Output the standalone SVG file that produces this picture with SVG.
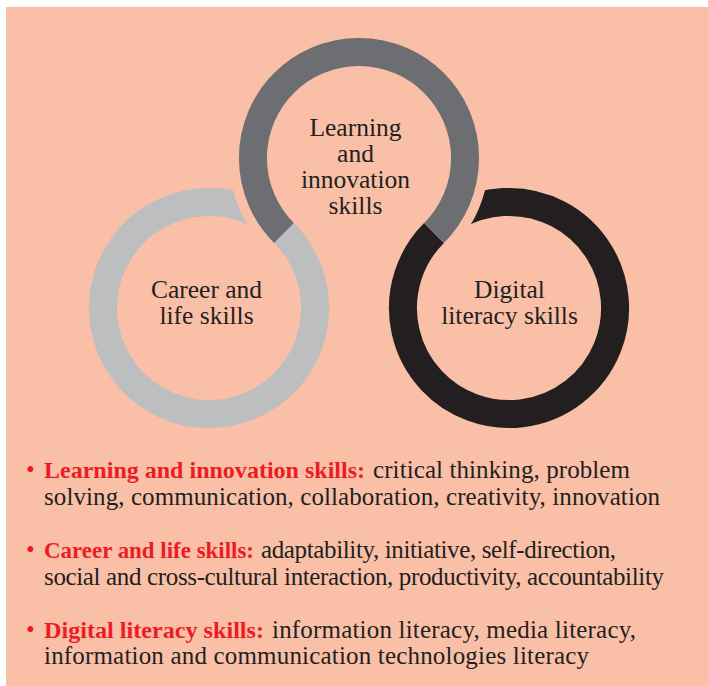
<svg xmlns="http://www.w3.org/2000/svg" width="708" height="686" viewBox="0 0 708 686">
<style>
.ring{fill:none;stroke-width:28;stroke-linecap:butt}
.cover{fill:none;stroke:#f9bfa7;stroke-width:38;stroke-linecap:butt}
.lbl{font-family:"Liberation Serif","Times New Roman",serif;font-size:25.5px;fill:#231f20;text-anchor:middle}
.body{font-family:"Liberation Serif","Times New Roman",serif;font-size:25px;fill:#231f20}
.head{font-family:"Liberation Serif","Times New Roman",serif;font-size:24px;font-weight:bold;fill:#ed1c24}
.dot{font-family:"Liberation Serif","Times New Roman",serif;font-size:25px;fill:#ed1c24}
</style>
<rect x="0" y="0" width="708" height="686" fill="#ffffff"/>
<rect x="6" y="7" width="702" height="679" fill="#f9bfa7"/>
<g id="career-ring">
<path class="ring" stroke="#bcbec0" d="M284,233 A106.07,106.07 0 1 1 262.03,216.14"/>
</g>
<g id="digital-ring">
<path class="ring" stroke="#231f20" d="M434,233 A106.07,106.07 0 1 0 455.97,216.14"/>
</g>
<g id="learning-ring">
<path class="cover" d="M273.97,229.35 A111,111 0 0 1 251.78,129.27"/>
<path class="cover" d="M444.03,229.35 A111,111 0 0 0 466.22,129.27"/>
<path class="ring" stroke="#6d6e71" d="M284,233 A106.07,106.07 0 1 1 434,233"/>
</g>
<g id="learning-label">
<text class="lbl"><tspan x="355.5" y="135.5">Learning</tspan><tspan x="355.5" y="161.5">and</tspan><tspan x="355.5" y="187.5">innovation</tspan><tspan x="355.5" y="213.5">skills</tspan></text>
</g>
<g id="career-label">
<text class="lbl"><tspan x="206.5" y="298">Career and</tspan><tspan x="206.5" y="323.5">life skills</tspan></text>
</g>
<g id="digital-label">
<text class="lbl"><tspan x="509.5" y="298">Digital</tspan><tspan x="509.5" y="323.5">literacy skills</tspan></text>
</g>
<g id="bullet-learning">
<text class="dot" x="26" y="478">•</text>
<text class="head" x="44" y="478" textLength="321" lengthAdjust="spacingAndGlyphs">Learning and innovation skills:</text>
<text class="body"><tspan x="373" y="478" textLength="257" lengthAdjust="spacing">critical thinking, problem</tspan><tspan x="44" y="505" textLength="616" lengthAdjust="spacing">solving, communication, collaboration, creativity, innovation</tspan></text>
</g>
<g id="bullet-career">
<text class="dot" x="26" y="558">•</text>
<text class="head" x="44" y="558" textLength="210" lengthAdjust="spacingAndGlyphs">Career and life skills:</text>
<text class="body"><tspan x="261" y="558" textLength="355" lengthAdjust="spacing">adaptability, initiative, self-direction,</tspan><tspan x="44" y="585" textLength="620" lengthAdjust="spacing">social and cross-cultural interaction, productivity, accountability</tspan></text>
</g>
<g id="bullet-digital">
<text class="dot" x="26" y="638">•</text>
<text class="head" x="44" y="638" textLength="220" lengthAdjust="spacingAndGlyphs">Digital literacy skills:</text>
<text class="body"><tspan x="272" y="638" textLength="364" lengthAdjust="spacing">information literacy, media literacy,</tspan><tspan x="44" y="664" textLength="545" lengthAdjust="spacing">information and communication technologies literacy</tspan></text>
</g>
</svg>
